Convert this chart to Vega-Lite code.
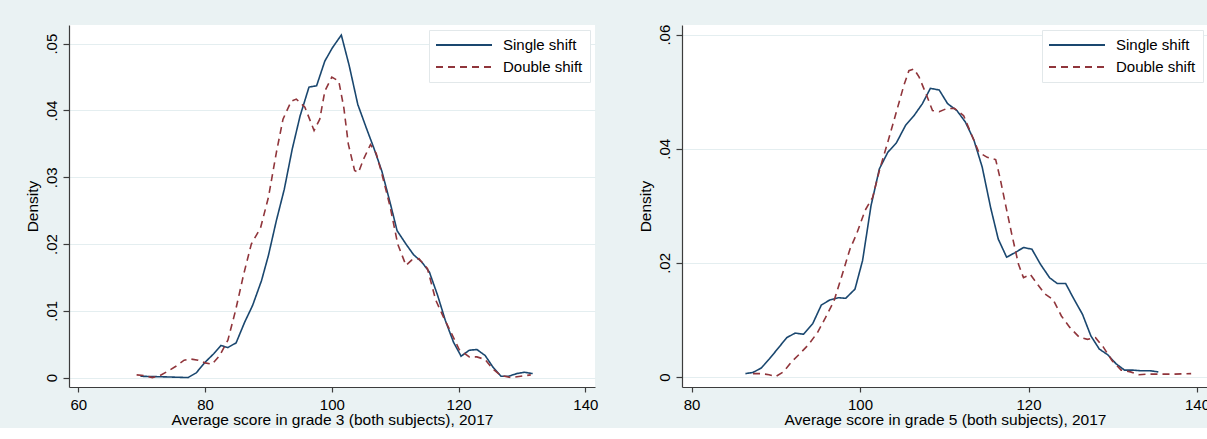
{
  "$schema": "https://vega.github.io/schema/vega-lite/v6.json",
  "background": "#EAF2F3",
  "padding": {"left": 25, "top": 24, "right": 0, "bottom": 0},
  "spacing": 40,
  "config": {
    "font": "Liberation Sans",
    "view": {"fill": "white", "stroke": null},
    "axis": {
      "labelFont": "Liberation Sans",
      "titleFont": "Liberation Sans",
      "labelFontSize": 15,
      "titleFontSize": 15.5,
      "titleFontWeight": "normal",
      "labelColor": "black",
      "titleColor": "black",
      "domainColor": "#3c3c3c",
      "tickColor": "#3c3c3c",
      "domainWidth": 1.2,
      "tickWidth": 1.2,
      "tickSize": 5
    },
    "axisX": {"grid": false, "labelPadding": 5, "titlePadding": 0},
    "axisY": {
      "grid": true,
      "gridColor": "#E4EEF0",
      "gridWidth": 1.2,
      "labelAngle": 270,
      "labelAlign": "center",
      "labelBaseline": "bottom",
      "labelPadding": 4,
      "tickSize": 6,
      "titlePadding": 4
    },
    "legend": {
      "orient": "top-right",
      "title": null,
      "fillColor": "white",
      "strokeColor": "#E2E8EA",
      "padding": 7,
      "offset": 5,
      "symbolType": "M-4,0H4",
      "symbolSize": 196,
      "symbolOffset": 20,
      "symbolStrokeWidth": 2,
      "labelFont": "Liberation Sans",
      "labelFontSize": 15,
      "labelColor": "black",
      "labelOffset": 31,
      "rowPadding": 6
    }
  },
  "datasets": {
    "grade3": [
      {"score": 69.8, "density": 0.0002, "shift": "Single shift"},
      {"score": 73.9, "density": 0.0001, "shift": "Single shift"},
      {"score": 77.3, "density": 0.0, "shift": "Single shift"},
      {"score": 78.6, "density": 0.0007, "shift": "Single shift"},
      {"score": 80.0, "density": 0.0023, "shift": "Single shift"},
      {"score": 81.4, "density": 0.0036, "shift": "Single shift"},
      {"score": 82.5, "density": 0.0048, "shift": "Single shift"},
      {"score": 83.6, "density": 0.0045, "shift": "Single shift"},
      {"score": 84.9, "density": 0.0052, "shift": "Single shift"},
      {"score": 86.25, "density": 0.0083, "shift": "Single shift"},
      {"score": 87.5, "density": 0.0108, "shift": "Single shift"},
      {"score": 88.9, "density": 0.0145, "shift": "Single shift"},
      {"score": 90.0, "density": 0.0183, "shift": "Single shift"},
      {"score": 91.25, "density": 0.0235, "shift": "Single shift"},
      {"score": 92.5, "density": 0.0282, "shift": "Single shift"},
      {"score": 93.75, "density": 0.0342, "shift": "Single shift"},
      {"score": 95.0, "density": 0.0392, "shift": "Single shift"},
      {"score": 96.4, "density": 0.0435, "shift": "Single shift"},
      {"score": 97.6, "density": 0.0437, "shift": "Single shift"},
      {"score": 98.9, "density": 0.0474, "shift": "Single shift"},
      {"score": 100.1, "density": 0.0494, "shift": "Single shift"},
      {"score": 101.5, "density": 0.0513, "shift": "Single shift"},
      {"score": 102.75, "density": 0.0467, "shift": "Single shift"},
      {"score": 104.1, "density": 0.0409, "shift": "Single shift"},
      {"score": 105.4, "density": 0.0375, "shift": "Single shift"},
      {"score": 106.7, "density": 0.0342, "shift": "Single shift"},
      {"score": 107.9, "density": 0.0309, "shift": "Single shift"},
      {"score": 109.2, "density": 0.0262, "shift": "Single shift"},
      {"score": 110.3, "density": 0.022, "shift": "Single shift"},
      {"score": 111.7, "density": 0.02, "shift": "Single shift"},
      {"score": 112.9, "density": 0.0184, "shift": "Single shift"},
      {"score": 114.2, "density": 0.0173, "shift": "Single shift"},
      {"score": 115.4, "density": 0.0158, "shift": "Single shift"},
      {"score": 116.7, "density": 0.0123, "shift": "Single shift"},
      {"score": 117.9, "density": 0.0086, "shift": "Single shift"},
      {"score": 119.2, "density": 0.0053, "shift": "Single shift"},
      {"score": 120.4, "density": 0.0032, "shift": "Single shift"},
      {"score": 121.7, "density": 0.0041, "shift": "Single shift"},
      {"score": 122.9, "density": 0.0042, "shift": "Single shift"},
      {"score": 124.2, "density": 0.0033, "shift": "Single shift"},
      {"score": 125.4, "density": 0.0016, "shift": "Single shift"},
      {"score": 126.7, "density": 0.0002, "shift": "Single shift"},
      {"score": 127.9, "density": 0.0002, "shift": "Single shift"},
      {"score": 129.2, "density": 0.0006, "shift": "Single shift"},
      {"score": 130.4, "density": 0.0008, "shift": "Single shift"},
      {"score": 131.7, "density": 0.0006, "shift": "Single shift"},
      {"score": 69.2, "density": 0.0004, "shift": "Double shift"},
      {"score": 70.4, "density": 0.0003, "shift": "Double shift"},
      {"score": 71.7, "density": 0.0, "shift": "Double shift"},
      {"score": 72.9, "density": 0.0003, "shift": "Double shift"},
      {"score": 74.2, "density": 0.001, "shift": "Double shift"},
      {"score": 75.4, "density": 0.0017, "shift": "Double shift"},
      {"score": 76.7, "density": 0.0026, "shift": "Double shift"},
      {"score": 77.6, "density": 0.0028, "shift": "Double shift"},
      {"score": 78.9, "density": 0.0026, "shift": "Double shift"},
      {"score": 80.0, "density": 0.0022, "shift": "Double shift"},
      {"score": 81.1, "density": 0.002, "shift": "Double shift"},
      {"score": 82.3, "density": 0.0033, "shift": "Double shift"},
      {"score": 83.6, "density": 0.0056, "shift": "Double shift"},
      {"score": 84.8, "density": 0.01, "shift": "Double shift"},
      {"score": 86.1, "density": 0.0155, "shift": "Double shift"},
      {"score": 87.3, "density": 0.02, "shift": "Double shift"},
      {"score": 88.75, "density": 0.0224, "shift": "Double shift"},
      {"score": 90.0, "density": 0.027, "shift": "Double shift"},
      {"score": 91.25, "density": 0.0337, "shift": "Double shift"},
      {"score": 92.3, "density": 0.0387, "shift": "Double shift"},
      {"score": 93.6, "density": 0.0414, "shift": "Double shift"},
      {"score": 94.4, "density": 0.0417, "shift": "Double shift"},
      {"score": 95.75, "density": 0.0405, "shift": "Double shift"},
      {"score": 97.2, "density": 0.037, "shift": "Double shift"},
      {"score": 98.1, "density": 0.0387, "shift": "Double shift"},
      {"score": 98.9, "density": 0.0429, "shift": "Double shift"},
      {"score": 100.0, "density": 0.045, "shift": "Double shift"},
      {"score": 101.1, "density": 0.0444, "shift": "Double shift"},
      {"score": 101.9, "density": 0.0404, "shift": "Double shift"},
      {"score": 102.6, "density": 0.035, "shift": "Double shift"},
      {"score": 103.6, "density": 0.031, "shift": "Double shift"},
      {"score": 104.2, "density": 0.0307, "shift": "Double shift"},
      {"score": 105.0, "density": 0.0327, "shift": "Double shift"},
      {"score": 106.1, "density": 0.0349, "shift": "Double shift"},
      {"score": 107.0, "density": 0.0336, "shift": "Double shift"},
      {"score": 107.9, "density": 0.0305, "shift": "Double shift"},
      {"score": 109.2, "density": 0.0256, "shift": "Double shift"},
      {"score": 110.4, "density": 0.02, "shift": "Double shift"},
      {"score": 111.7, "density": 0.0168, "shift": "Double shift"},
      {"score": 112.6, "density": 0.0176, "shift": "Double shift"},
      {"score": 113.75, "density": 0.0178, "shift": "Double shift"},
      {"score": 115.1, "density": 0.0163, "shift": "Double shift"},
      {"score": 116.4, "density": 0.0116, "shift": "Double shift"},
      {"score": 117.6, "density": 0.0091, "shift": "Double shift"},
      {"score": 118.9, "density": 0.0066, "shift": "Double shift"},
      {"score": 120.1, "density": 0.0042, "shift": "Double shift"},
      {"score": 121.7, "density": 0.0031, "shift": "Double shift"},
      {"score": 122.9, "density": 0.0031, "shift": "Double shift"},
      {"score": 124.2, "density": 0.0027, "shift": "Double shift"},
      {"score": 125.4, "density": 0.0013, "shift": "Double shift"},
      {"score": 126.7, "density": 0.0003, "shift": "Double shift"},
      {"score": 128.25, "density": 0.0, "shift": "Double shift"},
      {"score": 129.8, "density": 0.0002, "shift": "Double shift"},
      {"score": 131.4, "density": 0.0004, "shift": "Double shift"}
    ],
    "grade5": [
      {"score": 86.4, "density": 0.0006, "shift": "Single shift"},
      {"score": 87.3, "density": 0.0008, "shift": "Single shift"},
      {"score": 88.3, "density": 0.0016, "shift": "Single shift"},
      {"score": 89.2, "density": 0.0031, "shift": "Single shift"},
      {"score": 90.2, "density": 0.0049, "shift": "Single shift"},
      {"score": 91.3, "density": 0.0069, "shift": "Single shift"},
      {"score": 92.3, "density": 0.0077, "shift": "Single shift"},
      {"score": 93.3, "density": 0.0075, "shift": "Single shift"},
      {"score": 94.4, "density": 0.0094, "shift": "Single shift"},
      {"score": 95.4, "density": 0.0126, "shift": "Single shift"},
      {"score": 96.4, "density": 0.0135, "shift": "Single shift"},
      {"score": 97.4, "density": 0.0139, "shift": "Single shift"},
      {"score": 98.3, "density": 0.0138, "shift": "Single shift"},
      {"score": 99.4, "density": 0.0154, "shift": "Single shift"},
      {"score": 100.3, "density": 0.0204, "shift": "Single shift"},
      {"score": 101.3, "density": 0.03, "shift": "Single shift"},
      {"score": 102.3, "density": 0.0365, "shift": "Single shift"},
      {"score": 103.3, "density": 0.0394, "shift": "Single shift"},
      {"score": 104.3, "density": 0.041, "shift": "Single shift"},
      {"score": 105.4, "density": 0.0441, "shift": "Single shift"},
      {"score": 106.4, "density": 0.0458, "shift": "Single shift"},
      {"score": 107.4, "density": 0.0479, "shift": "Single shift"},
      {"score": 108.35, "density": 0.0506, "shift": "Single shift"},
      {"score": 109.4, "density": 0.0503, "shift": "Single shift"},
      {"score": 110.4, "density": 0.0479, "shift": "Single shift"},
      {"score": 111.5, "density": 0.0467, "shift": "Single shift"},
      {"score": 112.5, "density": 0.0447, "shift": "Single shift"},
      {"score": 113.5, "density": 0.0416, "shift": "Single shift"},
      {"score": 114.5, "density": 0.0368, "shift": "Single shift"},
      {"score": 115.5, "density": 0.0297, "shift": "Single shift"},
      {"score": 116.4, "density": 0.0242, "shift": "Single shift"},
      {"score": 117.4, "density": 0.021, "shift": "Single shift"},
      {"score": 118.4, "density": 0.0218, "shift": "Single shift"},
      {"score": 119.4, "density": 0.0227, "shift": "Single shift"},
      {"score": 120.4, "density": 0.0224, "shift": "Single shift"},
      {"score": 121.4, "density": 0.0198, "shift": "Single shift"},
      {"score": 122.5, "density": 0.0174, "shift": "Single shift"},
      {"score": 123.4, "density": 0.0164, "shift": "Single shift"},
      {"score": 124.4, "density": 0.0164, "shift": "Single shift"},
      {"score": 125.3, "density": 0.0139, "shift": "Single shift"},
      {"score": 126.4, "density": 0.011, "shift": "Single shift"},
      {"score": 127.4, "density": 0.0072, "shift": "Single shift"},
      {"score": 128.4, "density": 0.0049, "shift": "Single shift"},
      {"score": 129.4, "density": 0.0039, "shift": "Single shift"},
      {"score": 130.4, "density": 0.0023, "shift": "Single shift"},
      {"score": 131.4, "density": 0.0012, "shift": "Single shift"},
      {"score": 132.4, "density": 0.0012, "shift": "Single shift"},
      {"score": 133.3, "density": 0.0011, "shift": "Single shift"},
      {"score": 134.4, "density": 0.0011, "shift": "Single shift"},
      {"score": 135.4, "density": 0.0009, "shift": "Single shift"},
      {"score": 87.3, "density": 0.0006, "shift": "Double shift"},
      {"score": 88.3, "density": 0.0006, "shift": "Double shift"},
      {"score": 89.2, "density": 0.0004, "shift": "Double shift"},
      {"score": 90.0, "density": 0.0001, "shift": "Double shift"},
      {"score": 90.9, "density": 0.0009, "shift": "Double shift"},
      {"score": 91.9, "density": 0.0027, "shift": "Double shift"},
      {"score": 92.8, "density": 0.004, "shift": "Double shift"},
      {"score": 93.9, "density": 0.0057, "shift": "Double shift"},
      {"score": 94.95, "density": 0.0078, "shift": "Double shift"},
      {"score": 95.9, "density": 0.0104, "shift": "Double shift"},
      {"score": 96.9, "density": 0.0133, "shift": "Double shift"},
      {"score": 97.9, "density": 0.018, "shift": "Double shift"},
      {"score": 98.8, "density": 0.0224, "shift": "Double shift"},
      {"score": 99.6, "density": 0.0251, "shift": "Double shift"},
      {"score": 100.6, "density": 0.0292, "shift": "Double shift"},
      {"score": 101.5, "density": 0.0315, "shift": "Double shift"},
      {"score": 102.3, "density": 0.0362, "shift": "Double shift"},
      {"score": 103.3, "density": 0.0412, "shift": "Double shift"},
      {"score": 104.3, "density": 0.0464, "shift": "Double shift"},
      {"score": 105.2, "density": 0.0511, "shift": "Double shift"},
      {"score": 105.8, "density": 0.0537, "shift": "Double shift"},
      {"score": 106.4, "density": 0.054, "shift": "Double shift"},
      {"score": 107.0, "density": 0.0526, "shift": "Double shift"},
      {"score": 107.9, "density": 0.0494, "shift": "Double shift"},
      {"score": 108.6, "density": 0.0467, "shift": "Double shift"},
      {"score": 109.4, "density": 0.0465, "shift": "Double shift"},
      {"score": 110.2, "density": 0.047, "shift": "Double shift"},
      {"score": 111.2, "density": 0.0471, "shift": "Double shift"},
      {"score": 112.3, "density": 0.0458, "shift": "Double shift"},
      {"score": 113.2, "density": 0.0426, "shift": "Double shift"},
      {"score": 114.1, "density": 0.0394, "shift": "Double shift"},
      {"score": 115.1, "density": 0.0385, "shift": "Double shift"},
      {"score": 116.1, "density": 0.0381, "shift": "Double shift"},
      {"score": 116.6, "density": 0.035, "shift": "Double shift"},
      {"score": 117.3, "density": 0.03, "shift": "Double shift"},
      {"score": 118.0, "density": 0.0251, "shift": "Double shift"},
      {"score": 118.8, "density": 0.0198, "shift": "Double shift"},
      {"score": 119.4, "density": 0.0174, "shift": "Double shift"},
      {"score": 120.2, "density": 0.018, "shift": "Double shift"},
      {"score": 120.9, "density": 0.0166, "shift": "Double shift"},
      {"score": 121.9, "density": 0.0146, "shift": "Double shift"},
      {"score": 122.9, "density": 0.0136, "shift": "Double shift"},
      {"score": 123.9, "density": 0.0107, "shift": "Double shift"},
      {"score": 124.9, "density": 0.0087, "shift": "Double shift"},
      {"score": 126.0, "density": 0.007, "shift": "Double shift"},
      {"score": 127.0, "density": 0.0066, "shift": "Double shift"},
      {"score": 127.95, "density": 0.0069, "shift": "Double shift"},
      {"score": 128.9, "density": 0.0052, "shift": "Double shift"},
      {"score": 129.9, "density": 0.0029, "shift": "Double shift"},
      {"score": 131.0, "density": 0.0012, "shift": "Double shift"},
      {"score": 132.1, "density": 0.0009, "shift": "Double shift"},
      {"score": 133.1, "density": 0.0004, "shift": "Double shift"},
      {"score": 134.0, "density": 0.0005, "shift": "Double shift"},
      {"score": 135.4, "density": 0.0005, "shift": "Double shift"},
      {"score": 137.2, "density": 0.0005, "shift": "Double shift"},
      {"score": 139.3, "density": 0.0006, "shift": "Double shift"}
    ]
  },
  "hconcat": [
    {
      "width": 526,
      "height": 362,
      "data": {"name": "grade3"},
      "mark": {"type": "line", "strokeWidth": 1.6, "clip": true},
      "encoding": {
        "x": {
          "field": "score",
          "type": "quantitative",
          "scale": {"domain": [58.53, 141.53], "nice": false, "zero": false},
          "axis": {"values": [60, 80, 100, 120, 140], "title": "Average score in grade 3 (both subjects), 2017"}
        },
        "y": {
          "field": "density",
          "type": "quantitative",
          "scale": {"domain": [-0.00141, 0.0528], "nice": false, "zero": false},
          "axis": {
            "values": [0, 0.01, 0.02, 0.03, 0.04, 0.05],
            "title": "Density",
            "labelExpr": "datum.value == 0 ? '0' : substring(format(datum.value, '.2f'), 1)"
          }
        },
        "color": {
          "field": "shift",
          "type": "nominal",
          "scale": {"domain": ["Single shift", "Double shift"], "range": ["#1A476F", "#90353B"]}
        },
        "strokeDash": {
          "field": "shift",
          "type": "nominal",
          "scale": {"domain": ["Single shift", "Double shift"], "range": [[1, 0], [7, 5]]}
        },
        "order": {"field": "score", "type": "quantitative"}
      }
    },
    {
      "width": 526,
      "height": 362,
      "data": {"name": "grade5"},
      "mark": {"type": "line", "strokeWidth": 1.6, "clip": true},
      "encoding": {
        "x": {
          "field": "score",
          "type": "quantitative",
          "scale": {"domain": [78.87, 141.3], "nice": false, "zero": false},
          "axis": {"values": [80, 100, 120, 140], "title": "Average score in grade 5 (both subjects), 2017"}
        },
        "y": {
          "field": "density",
          "type": "quantitative",
          "scale": {"domain": [-0.00175, 0.0617], "nice": false, "zero": false},
          "axis": {
            "values": [0, 0.02, 0.04, 0.06],
            "title": "Density",
            "labelExpr": "datum.value == 0 ? '0' : substring(format(datum.value, '.2f'), 1)"
          }
        },
        "color": {
          "field": "shift",
          "type": "nominal",
          "scale": {"domain": ["Single shift", "Double shift"], "range": ["#1A476F", "#90353B"]}
        },
        "strokeDash": {
          "field": "shift",
          "type": "nominal",
          "scale": {"domain": ["Single shift", "Double shift"], "range": [[1, 0], [7, 5]]}
        },
        "order": {"field": "score", "type": "quantitative"}
      }
    }
  ],
  "resolve": {
    "scale": {"x": "independent", "y": "independent"},
    "legend": {"color": "independent", "strokeDash": "independent"}
  }
}
